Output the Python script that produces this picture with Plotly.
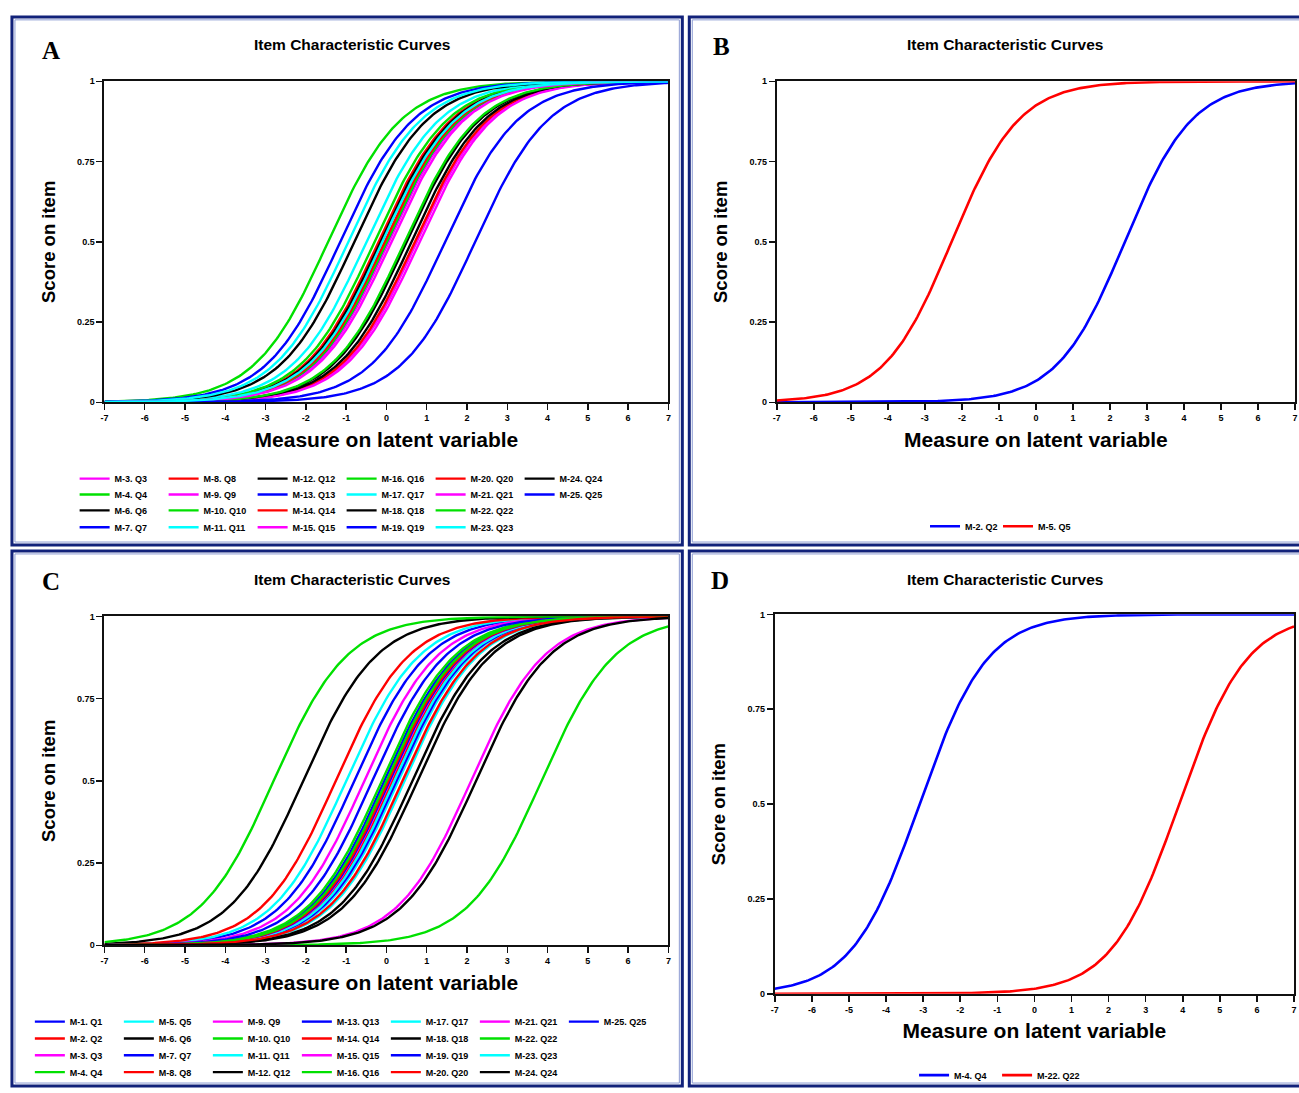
import numpy as np
import plotly.graph_objects as go

W, H = 1299, 1093

# ---------------- data (item locations) ----------------
SLOPE = 1.1  # common discrimination of the logistic item curves

a_items = ["M-3. Q3", "M-4. Q4", "M-6. Q6", "M-7. Q7", "M-8. Q8", "M-9. Q9",
           "M-10. Q10", "M-11. Q11", "M-12. Q12", "M-13. Q13", "M-14. Q14",
           "M-15. Q15", "M-16. Q16", "M-17. Q17", "M-18. Q18", "M-19. Q19",
           "M-20. Q20", "M-21. Q21", "M-22. Q22", "M-23. Q23", "M-24. Q24",
           "M-25. Q25"]
a_locations = [0.75, -1.45, -0.8, -1.15, -0.2, 0.05, 0.0, -0.95, -0.15, 0.0,
               -0.05, 0.12, -0.3, -0.5, 0.5, 1.45, 0.7, 0.82, 0.45, -0.1,
               0.62, 2.2]

b_items = ["M-2. Q2", "M-5. Q5"]
b_locations = [2.4, -2.28]

c_items = ["M-1. Q1", "M-2. Q2", "M-3. Q3", "M-4. Q4", "M-5. Q5", "M-6. Q6",
           "M-7. Q7", "M-8. Q8", "M-9. Q9", "M-10. Q10", "M-11. Q11",
           "M-12. Q12", "M-13. Q13", "M-14. Q14", "M-15. Q15", "M-16. Q16",
           "M-17. Q17", "M-18. Q18", "M-19. Q19", "M-20. Q20", "M-21. Q21",
           "M-22. Q22", "M-23. Q23", "M-24. Q24", "M-25. Q25"]
c_locations = [-0.8, -1.26, 2.1, -2.8, -1.0, -2.07, -0.35, 0.05, -0.55, -0.12,
               0.2, 0.64, -0.05, 0.15, 0.1, 0.0, 0.3, 0.77, 0.08, 0.4, 0.25,
               3.85, 0.45, 2.22, 0.25]

d_items = ["M-4. Q4", "M-22. Q22"]
d_locations = [-3.1, 3.9]

x_ticks = [-7, -6, -5, -4, -3, -2, -1, 0, 1, 2, 3, 4, 5, 6, 7]
y_ticks = [0, 0.25, 0.5, 0.75, 1]
y_tick_labels = ["0", "0.25", "0.5", "0.75", "1"]

# ---------------- styles ----------------
ITEM_COLOURS = {1: "#0000FF", 2: "#FF0000", 3: "#FF00FF", 4: "#00E000",
                5: "#00FFFF", 0: "#000000"}
PAIR_COLOURS = ["#0000FF", "#FF0000"]
FONT = "Liberation Sans, Arial, sans-serif"

theta = np.linspace(-7, 7, 281)


def icc(b):
    return 1.0 / (1.0 + np.exp(-SLOPE * (theta - b)))


def item_number(name):
    return int(name.split(".")[0].split("-")[1])


def px(x):
    return x / W


def py(y):
    return 1 - y / H


fig = go.Figure()

# panel geometry (pixels) : x0, x1, y_top, y_bottom
panels = {
    "A": dict(ax="", plot=(101, 668, 77, 401)),
    "B": dict(ax="2", plot=(777, 1298, 77, 401)),
    "C": dict(ax="3", plot=(101, 668, 617, 949)),
    "D": dict(ax="4", plot=(775, 1297, 615, 998)),
}


def add_grid_panel(items, locs, ax, legend_base, nrows=4):
    # legend rows: column-major order with nrows rows
    for r in range(nrows):
        lname = "legend" if legend_base + r == 1 else "legend%d" % (legend_base + r)
        for idx in range(r, len(items), nrows):
            name = items[idx]
            fig.add_trace(go.Scatter(
                x=theta, y=icc(locs[idx]), mode="lines", name=name,
                line=dict(color=ITEM_COLOURS[item_number(name) % 6], width=2.4),
                xaxis="x" + ax, yaxis="y" + ax, legend=lname,
                hoverinfo="skip"))


def add_pair_panel(items, locs, ax, legend_idx):
    lname = "legend%d" % legend_idx
    for i, name in enumerate(items):
        fig.add_trace(go.Scatter(
            x=theta, y=icc(locs[i]), mode="lines", name=name,
            line=dict(color=PAIR_COLOURS[i], width=2.6),
            xaxis="x" + ax, yaxis="y" + ax, legend=lname, hoverinfo="skip"))


add_grid_panel(a_items, a_locations, "", 1)       # legends 1..4
add_pair_panel(b_items, b_locations, "2", 5)       # legend5
add_grid_panel(c_items, c_locations, "3", 6)      # legends 6..9
add_pair_panel(d_items, d_locations, "4", 10)      # legend10

layout = dict(
    width=W, height=H, margin=dict(l=0, r=0, t=0, b=0),
    paper_bgcolor="white", plot_bgcolor="white",
    font=dict(family=FONT, color="black"),
)

for key, p in panels.items():
    x0, x1, yt, yb = p["plot"]
    ax = p["ax"]
    xname = "xaxis" + ax
    yname = "yaxis" + ax
    layout[xname] = dict(
        domain=[px(x0), px(x1)], range=[-7, 7], tickvals=x_ticks,
        ticktext=[str(t) for t in x_ticks],
        anchor="y" + ax, showline=True, mirror=True, linecolor="#111",
        linewidth=2, ticks="outside", ticklen=6, tickwidth=1.5,
        tickcolor="#111", showgrid=False, zeroline=False,
        tickfont=dict(size=9, family=FONT, weight="bold"),
        title=dict(text="Measure on latent variable",
                   font=dict(size=21, family=FONT, weight="bold"),
                   standoff=10),
        fixedrange=True)
    layout[yname] = dict(
        domain=[py(yb), py(yt)], range=[0, 1], tickvals=y_ticks,
        ticktext=y_tick_labels, anchor="x" + ax, showline=True, mirror=True,
        linecolor="#111", linewidth=2, ticks="outside", ticklen=6,
        tickwidth=1.5, tickcolor="#111", showgrid=False, zeroline=False,
        tickfont=dict(size=9, family=FONT, weight="bold"),
        title=dict(text="Score on item",
                   font=dict(size=18.5, family=FONT, weight="bold"),
                   standoff=17),
        fixedrange=True)

# legends
leg_common = dict(orientation="h", xanchor="left", yanchor="middle",
                  bgcolor="rgba(0,0,0,0)", borderwidth=0,
                  font=dict(size=9, family=FONT, weight="bold"),
                  entrywidthmode="pixels", itemwidth=30, itemclick=False,
                  itemdoubleclick=False, tracegroupgap=0)
a_rows_y = [478, 494, 510, 527]
c_rows_y = [1026, 1043, 1060, 1077]
for r, yy in enumerate(a_rows_y):
    n = r + 1
    layout["legend" if n == 1 else "legend%d" % n] = dict(
        leg_common, x=px(71), y=py(yy), entrywidth=44)
layout["legend5"] = dict(leg_common, x=px(926), y=py(526), entrywidth=28)
for r, yy in enumerate(c_rows_y):
    layout["legend%d" % (6 + r)] = dict(leg_common, x=px(26), y=py(yy),
                                         entrywidth=44)
layout["legend10"] = dict(leg_common, x=px(915), y=py(1080), entrywidth=38)

# annotations: panel titles and letters
annos = []
for (cx, cy) in [(350, 40), (1006, 40), (350, 580), (1006, 580)]:
    annos.append(dict(text="Item Characteristic Curves", x=px(cx), y=py(cy),
                      xref="paper", yref="paper", showarrow=False,
                      xanchor="center", yanchor="middle",
                      font=dict(size=15.5, family=FONT, weight="bold")))
for letter, (cx, cy) in zip("ABCD", [(47, 46), (721, 42), (47, 582), (720, 581)]):
    annos.append(dict(text=letter, x=px(cx), y=py(cy), xref="paper",
                      yref="paper", showarrow=False, xanchor="center",
                      yanchor="middle",
                      font=dict(size=25, family="Liberation Serif, Times New Roman, serif",
                                weight="bold")))
layout["annotations"] = annos

# panel frames (double navy border)
shapes = []
for (x0, y0, x1, y1) in [(8, 12, 682, 545), (689, 12, 1310, 545),
                         (8, 551, 682, 1091), (689, 551, 1310, 1091)]:
    shapes.append(dict(type="rect", xref="paper", yref="paper",
                       x0=px(x0), x1=px(x1), y0=py(y1), y1=py(y0),
                       line=dict(color="#12227a", width=3), layer="below"))
    shapes.append(dict(type="rect", xref="paper", yref="paper",
                       x0=px(x0 + 3), x1=px(x1 - 3), y0=py(y1 - 3), y1=py(y0 + 3),
                       line=dict(color="#8c9bd2", width=1), layer="below"))
layout["shapes"] = shapes

fig.update_layout(**layout)
fig.write_html(
    "out.html",
    config={"displayModeBar": False, "staticPlot": True},
    post_script="document.body.style.margin='0';document.body.style.padding='0';"
                "document.body.style.overflow='hidden';")
